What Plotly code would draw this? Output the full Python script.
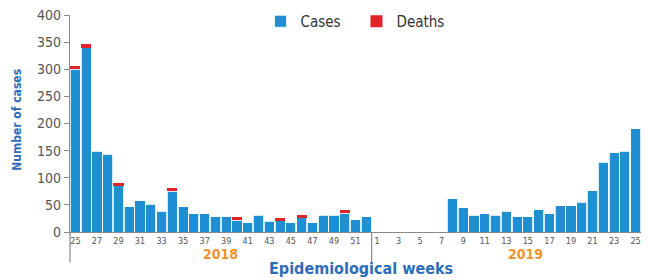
import plotly.graph_objects as go

# ---- data ----
weeks_2018 = list(range(25, 53))
weeks_2019 = list(range(1, 26))
cases_2018 = [300, 340, 149, 143, 85, 47, 58, 51, 38, 75, 47, 34, 34, 28,
              28, 22, 17, 31, 20, 21, 17, 26, 17, 31, 31, 35, 23, 28]
cases_2019 = [0, 0, 0, 0, 0, 0, 0, 61, 45, 31, 34, 31, 38, 28, 28, 41, 34,
              48, 48, 55, 76, 129, 146, 149, 190]
deaths_2018 = [6, 6, 0, 0, 6, 0, 0, 0, 0, 6, 0, 0, 0, 0,
               0, 5, 0, 0, 0, 5, 0, 5, 0, 0, 0, 6, 0, 0]
deaths_2019 = [0] * 25
y_ticks = [0, 50, 100, 150, 200, 250, 300, 350, 400]

labels = [f"2018-{w}" for w in weeks_2018] + [f"2019-{w}" for w in weeks_2019]
week_nums = weeks_2018 + weeks_2019
cases = cases_2018 + cases_2019
deaths = deaths_2018 + deaths_2019
pos = list(range(len(labels)))

BLUE = "#1f8fd4"
RED = "#e3232a"
TITLE_BLUE = "#2f6cb8"
ORANGE = "#f0932b"
GRAY = "#555555"
FONT = "Liberation Sans Narrow, DejaVu Sans Condensed, Arial, sans-serif"

fig = go.Figure()
fig.add_trace(go.Bar(x=pos, y=cases, name="Cases", marker=dict(color=BLUE, line=dict(color="white", width=0.8))))
fig.add_trace(go.Bar(x=pos, y=deaths, name="Deaths", marker=dict(color=RED, line=dict(width=0))))

r0, r1 = -0.5, len(pos) - 0.5
tickvals = [p for p, w in zip(pos, week_nums) if w % 2 == 1]
ticktext = [str(week_nums[p]) for p in tickvals]

split = len(weeks_2018) - 0.5
split_paper = (split - r0) / (r1 - r0)

fig.update_layout(
    width=633, height=272,
    margin=dict(l=62, r=0, t=7, b=48, autoexpand=False),
    barmode="stack", bargap=0.06,
    plot_bgcolor="white", paper_bgcolor="white",
    font=dict(family=FONT, color=GRAY),
    showlegend=True,
    legend=dict(orientation="h", x=0.3336, y=1.046, xanchor="left", yanchor="top",
                traceorder="normal",
                font=dict(size=15, color="#333333"), entrywidth=51, entrywidthmode="pixels",
                bgcolor="rgba(0,0,0,0)"),
    xaxis=dict(range=[r0, r1], tickvals=tickvals, ticktext=ticktext, showgrid=False,
               showline=True, linecolor="#8a8a8a", linewidth=1.2, ticks="",
               tickfont=dict(size=9, color=GRAY), zeroline=False, automargin=False,
               ticklabeloverflow="allow"),
    yaxis=dict(range=[0, 400], tickvals=y_ticks, showgrid=False, showline=True,
               linecolor="#8a8a8a", linewidth=1.2, ticks="outside", ticklen=5,
               tickcolor="#8a8a8a", tickfont=dict(size=14, color=GRAY), zeroline=False,
               automargin=False, ticklabeloverflow="allow"),
    shapes=[
        dict(type="line", xref="paper", yref="paper", x0=0, x1=0, y0=0, y1=-0.14,
             line=dict(color="#8a8a8a", width=1.2)),
        dict(type="line", xref="paper", yref="paper", x0=split_paper, x1=split_paper,
             y0=0, y1=-0.14, line=dict(color="#8a8a8a", width=1.2)),
    ],
    annotations=[
        dict(text="<b>2018</b>", x=(len(weeks_2018) - 1) / 2, xref="x", y=-0.101, yref="paper",
             xanchor="center", yanchor="middle",
             showarrow=False, font=dict(size=14, color=ORANGE)),
        dict(text="<b>2019</b>", x=len(weeks_2018) + (len(weeks_2019) - 1) / 2 + 1.75, xref="x",
             y=-0.101, yref="paper", xanchor="center", yanchor="middle",
             showarrow=False, font=dict(size=14, color=ORANGE)),
        dict(text="<b>Epidemiological weeks</b>", x=0.5096, xref="paper", y=-0.166, yref="paper",
             xanchor="center", yanchor="middle",
             showarrow=False, font=dict(size=16, color=TITLE_BLUE)),
        dict(text="<b>Number of cases</b>", x=-0.0933, xref="paper", y=0.516, yref="paper",
             xanchor="center", yanchor="middle",
             textangle=-90, showarrow=False, font=dict(size=12, color=TITLE_BLUE)),
    ],
)

fig.write_html("out.html")
